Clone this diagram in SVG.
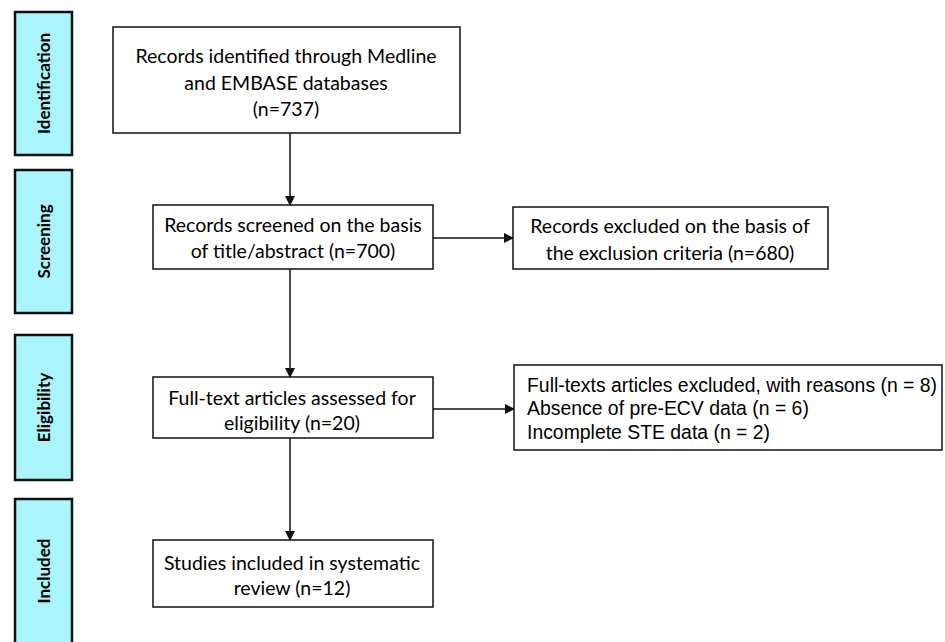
<svg xmlns="http://www.w3.org/2000/svg" width="945" height="642" viewBox="0 0 945 642">
<style>
.stage{fill:#aaf4fc;stroke:#111;stroke-width:2.5}
.stxt{font-family:Lato,"Open Sans",sans-serif;font-weight:bold;font-size:17px;fill:#000;text-anchor:middle;dominant-baseline:central}
.box{fill:#fff;stroke:#111;stroke-width:1.5}
.t{font-family:Lato,"Open Sans",sans-serif;font-size:19.5px;fill:#000;text-anchor:middle;dominant-baseline:central}
.a{font-family:"Liberation Sans",Arial,sans-serif;font-size:19.4px;fill:#000;dominant-baseline:central}
.c{stroke:#111;stroke-width:1.5;fill:none;marker-end:url(#ah)}
</style>
<defs>
<marker id="ah" markerWidth="10" markerHeight="10" refX="9" refY="5" orient="auto" markerUnits="userSpaceOnUse">
<path d="M0,0 L10,5 L0,10 z" fill="#111"/>
</marker>
</defs>
<rect width="945" height="642" fill="#fff"/>
<g id="stage-identification"><rect class="stage" x="15" y="12" width="57" height="143"/><text class="stxt" transform="translate(43.5,83.5) rotate(-90)">Identification</text></g>
<g id="stage-screening"><rect class="stage" x="15" y="170" width="57" height="143"/><text class="stxt" transform="translate(43.5,241.5) rotate(-90)">Screening</text></g>
<g id="stage-eligibility"><rect class="stage" x="15" y="335" width="57" height="145"/><text class="stxt" transform="translate(43.5,407.5) rotate(-90)">Eligibility</text></g>
<g id="stage-included"><rect class="stage" x="15" y="499" width="57" height="150"/><text class="stxt" transform="translate(43.5,571) rotate(-90)">Included</text></g>
<g id="connectors">
<line class="c" x1="290" y1="133" x2="290" y2="205"/>
<line class="c" x1="290" y1="269" x2="290" y2="377"/>
<line class="c" x1="290" y1="438" x2="290" y2="540"/>
<line class="c" x1="433" y1="238" x2="513" y2="238"/>
<line class="c" x1="433" y1="409" x2="514" y2="409"/>
</g>
<g id="n1"><rect class="box" x="113" y="27" width="347" height="106"/>
<text class="t" x="286" y="55">Records identified through Medline</text>
<text class="t" x="286" y="82">and EMBASE databases</text>
<text class="t" x="286" y="108">(n=737)</text></g>
<g id="n2"><rect class="box" x="153" y="205" width="280" height="64"/>
<text class="t" x="293" y="224">Records screened on the basis</text>
<text class="t" x="293" y="250">of title/abstract (n=700)</text></g>
<g id="n3"><rect class="box" x="513" y="207" width="315" height="62"/>
<text class="t" x="670" y="225">Records excluded on the basis of</text>
<text class="t" x="670" y="252">the exclusion criteria (n=680)</text></g>
<g id="n4"><rect class="box" x="153" y="377" width="280" height="61"/>
<text class="t" x="292" y="397">Full-text articles assessed for</text>
<text class="t" x="292" y="422">eligibility (n=20)</text></g>
<g id="n5"><rect class="box" x="514" y="365" width="428" height="85"/>
<text class="a" x="527" y="385">Full-texts articles excluded, with reasons (n = 8)</text>
<text class="a" x="527" y="408">Absence of pre-ECV data (n = 6)</text>
<text class="a" x="527" y="432">Incomplete STE data (n = 2)</text></g>
<g id="n6"><rect class="box" x="153" y="540" width="280" height="67"/>
<text class="t" x="292" y="562">Studies included in systematic</text>
<text class="t" x="292" y="587">review (n=12)</text></g>
</svg>
